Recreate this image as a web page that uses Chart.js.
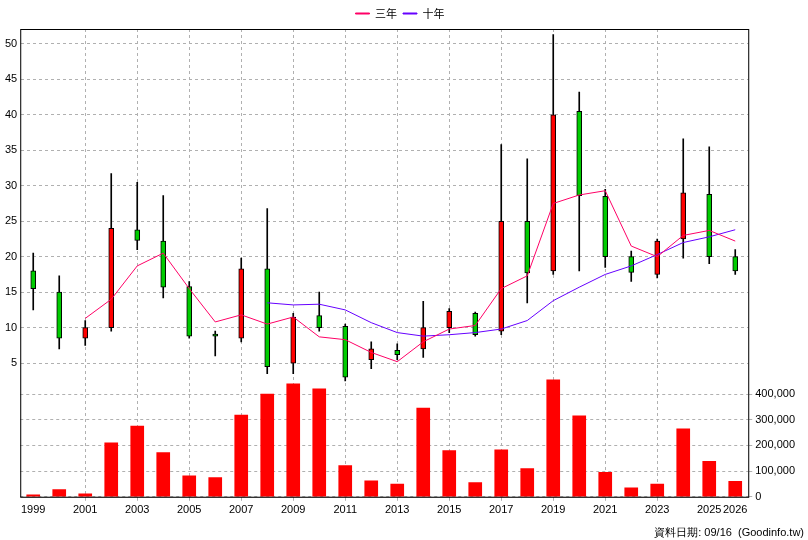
<!DOCTYPE html>
<html><head><meta charset="utf-8">
<script src="https://cdn.jsdelivr.net/npm/chart.js@4"></script>
<style>html,body{margin:0;background:#fff}#wrap{width:808px;height:540px}</style>
</head><body><div id="wrap"><canvas id="c"></canvas></div>
<script>
const years = ['1999','2000','2001','2002','2003','2004','2005','2006','2007','2008','2009','2010','2011','2012','2013','2014','2015','2016','2017','2018','2019','2020','2021','2022','2023','2024','2025','2026'];
const openP  = [18, 15, 8.5, 10, 23.8, 22.2, 15.8, 9.1, 8.5, 18.3, 5, 11.7, 10.2, 5.5, 6.8, 7, 10, 12, 9.5, 25, 18, 40.5, 28.5, 20, 17.5, 22.5, 28.8, 20];
const closeP = [15.5, 8.5, 10, 24, 22.3, 15.7, 8.8, 8.8, 18.3, 4.5, 11.5, 10, 3, 7, 6.2, 10, 12.3, 9, 25, 17.7, 40, 28.6, 20, 17.8, 22.2, 29, 20, 18];
const highP  = [20.5, 17.3, 11, 31.7, 30.5, 28.6, 16.5, 9.5, 19.8, 26.8, 12, 15, 10.5, 8, 7.7, 13.7, 12.7, 12.2, 35.8, 33.8, 51.3, 43.2, 29.5, 20.8, 22.5, 36.6, 35.5, 21];
const lowP   = [12.5, 7, 7.5, 9.5, 21, 14.2, 8.5, 6, 8, 3.5, 3.5, 9.5, 2.5, 4.2, 5.5, 5.8, 9.3, 8.8, 9, 13.5, 17.5, 18, 18.5, 16.5, 17, 19.8, 19, 17.5];
const ma3  = [null, null, 11.3, 14, 18.7, 20.5, 15.5, 10.8, 11.8, 10.5, 11.5, 8.7, 8.3, 6.5, 5.2, 8, 9.8, 10.3, 15.5, 17.3, 27.5, 28.7, 29.3, 21.5, 20, 23, 23.7, 22.2];
const ma10 = [null, null, null, null, null, null, null, null, null, 13.5, 13.2, 13.3, 12.5, 10.7, 9.3, 8.8, 9, 9.3, 9.8, 11, 13.8, 15.7, 17.5, 18.7, 20.3, 22, 22.8, 23.8];
const volume = [8000, 28000, 12000, 210000, 275000, 172000, 82000, 75000, 318000, 400000, 440000, 420000, 122000, 62000, 50000, 345000, 180000, 55000, 183000, 110000, 455000, 315000, 95000, 35000, 50000, 265000, 138000, 60000];

const bodyColor = openP.map((o, i) => closeP[i] >= o ? '#ff0000' : '#00cc00');
const gridCol = '#b0b0b0';

// footer text and frame around the plot
const extras = {
  id: 'extras',
  afterDraw(chart) {
    const ctx = chart.ctx, a = chart.chartArea;
    ctx.save();
    ctx.strokeStyle = '#000';
    ctx.lineWidth = 1;
    ctx.strokeRect(a.left + 0.5, a.top + 0.5, a.right - a.left, a.bottom - a.top);
    ctx.font = '11px "Liberation Sans", Arial';
    ctx.fillStyle = '#000';
    ctx.textAlign = 'right';
    ctx.fillText('資料日期: 09/16  (Goodinfo.tw)', 804, 533);
    ctx.restore();
  }
};

new Chart(document.getElementById('c'), {
  data: {
    labels: years,
    datasets: [
      { type: 'line', label: '三年', data: ma3, borderColor: '#ff0066', backgroundColor: '#ff0066', borderWidth: 1, pointRadius: 0, yAxisID: 'y', order: 0 },
      { type: 'line', label: '十年', data: ma10, borderColor: '#6600ff', backgroundColor: '#6600ff', borderWidth: 1, pointRadius: 0, yAxisID: 'y', order: 0 },
      { type: 'bar', label: 'body', data: openP.map((o, i) => [o, closeP[i]]), backgroundColor: bodyColor, borderColor: '#000', borderWidth: 1, borderSkipped: false, barThickness: 5, grouped: false, yAxisID: 'y', order: 1 },
      { type: 'bar', label: 'wick', data: lowP.map((l, i) => [l, highP[i]]), backgroundColor: '#000', barThickness: 1, grouped: false, yAxisID: 'y', order: 2 },
      { type: 'bar', label: 'vol', data: volume, backgroundColor: '#ff0000', barThickness: 13, grouped: false, yAxisID: 'yv', order: 3 }
    ]
  },
  options: {
    responsive: true,
    maintainAspectRatio: false,
    animation: false,
    layout: { padding: { top: 2, right: 10, left: 2, bottom: 20 } },
    plugins: {
      legend: {
        position: 'top',
        labels: {
          filter: item => item.text === '三年' || item.text === '十年',
          boxWidth: 14, boxHeight: 1, padding: 6,
          font: { size: 11, family: '"Noto Sans CJK TC"' }, color: '#000'
        }
      },
      tooltip: { enabled: false }
    },
    scales: {
      x: {
        grid: {
          color: ctx => (ctx.index % 2 === 0 && ctx.index > 0 && ctx.index < 26) ? gridCol : 'transparent',
          tickLength: 4, offset: false
        },
        border: { dash: [3, 3] },
        ticks: {
          autoSkip: false, maxRotation: 0, font: { size: 11, family: '"Liberation Sans"' }, color: '#000',
          callback: function (v, i) { const y = +years[i]; return (y % 2 === 1 || y === 2026) ? years[i] : ''; }
        }
      },
      y: {
        position: 'left', min: -13.85, max: 52.1,
        afterBuildTicks: axis => { axis.ticks = [5,10,15,20,25,30,35,40,45,50].map(v => ({ value: v })); },
        grid: { color: gridCol, drawTicks: false },
        border: { dash: [3, 3] },
        ticks: { font: { size: 11, family: '"Liberation Sans"' }, color: '#000', padding: 3 }
      },
      yv: {
        position: 'right', min: 0, max: 1821000,
        afterBuildTicks: axis => { axis.ticks = [0,100000,200000,300000,400000].map(v => ({ value: v })); },
        grid: { color: gridCol, drawTicks: true, tickLength: 4 },
        border: { dash: [3, 3] },
        ticks: { font: { size: 11, family: '"Liberation Sans"' }, color: '#000',
          callback: v => v.toLocaleString('en-US') }
      }
    }
  },
  plugins: [extras]
});
</script></body></html>
